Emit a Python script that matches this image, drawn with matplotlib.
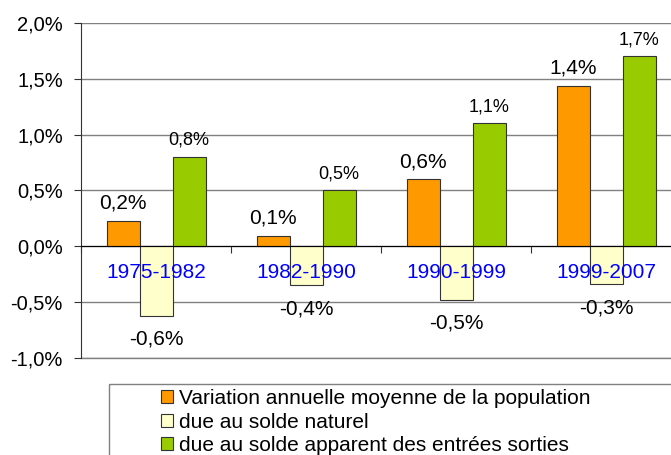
import numpy as np
import matplotlib
matplotlib.use("Agg")
import matplotlib.pyplot as plt
from matplotlib.patches import Rectangle

plt.rcParams['font.family'] = ['Liberation Sans', 'DejaVu Sans']

periods = ['1975-1982', '1982-1990', '1990-1999', '1999-2007']
variation = [0.23, 0.09, 0.60, 1.44]
solde_naturel = [-0.62, -0.35, -0.48, -0.34]
solde_migratoire = [0.80, 0.50, 1.10, 1.70]
shown_var = ['0,2%', '0,1%', '0,6%', '1,4%']
shown_nat = ['-0,6%', '-0,4%', '-0,5%', '-0,3%']
shown_mig = ['0,8%', '0,5%', '1,1%', '1,7%']
legend_names = ['Variation annuelle moyenne de la population',
                'due au solde naturel',
                'due au solde apparent des entrées sorties']

W, H = 671, 455
fig = plt.figure(figsize=(W / 100, H / 100), dpi=100)
ax = fig.add_axes([81 / W, (H - 358) / H, 600 / W, 335 / H])

x = np.arange(len(periods))
bw = 0.22
b1 = ax.bar(x - bw, variation, bw, color='#FF9900', edgecolor='#333333', linewidth=0.8, zorder=3)
b2 = ax.bar(x, solde_naturel, bw, color='#FFFFCC', edgecolor='#333333', linewidth=0.8, zorder=3)
b3 = ax.bar(x + bw, solde_migratoire, bw, color='#99CC00', edgecolor='#333333', linewidth=0.8, zorder=3)

for i in range(len(periods)):
    ax.annotate(shown_var[i], (x[i] - bw, variation[i]), xytext=(0, 6), textcoords='offset points',
                ha='center', va='bottom', fontsize=15)
    ax.annotate(shown_nat[i], (x[i], solde_naturel[i]), xytext=(0, -10), textcoords='offset points',
                ha='center', va='top', fontsize=15)
    ax.annotate(shown_mig[i], (x[i] + bw, solde_migratoire[i]), xytext=(0, 6), textcoords='offset points',
                ha='center', va='bottom', fontsize=13)
    # period names sit on top of the bars, just under the zero line
    ax.annotate(periods[i], (x[i], 0), xytext=(0, -19), textcoords='offset points',
                ha='center', va='center', fontsize=15, color='#0000FF', zorder=6)

ax.set_xlim(-0.5, 3.5)
ax.set_ylim(-1.0, 2.0)
yt = np.arange(-1.0, 2.01, 0.5)
ax.set_yticks(yt)
ax.set_yticklabels([f'{v:.1f}%'.replace('.', ',') for v in yt], fontsize=14.5)
ax.yaxis.grid(True, color='#808080', linewidth=1.0, zorder=0)
ax.axhline(-1.0, color='#808080', linewidth=1.0, clip_on=False, zorder=0)
ax.tick_params(axis='y', direction='out', length=5, color='#333333', pad=8)

ax.spines['bottom'].set_position(('data', 0))
ax.spines['bottom'].set_color('black')
ax.spines['bottom'].set_zorder(4)
ax.spines['top'].set_visible(False)
ax.spines['right'].set_visible(False)
ax.spines['left'].set_color('#333333')

ax.set_xticks([-0.5, 0.5, 1.5, 2.5, 3.5])
ax.set_xticklabels([])
ax.tick_params(axis='x', which='major', direction='out', length=5, color='#333333')

fig.patches.append(Rectangle((109 / W, -0.1), 0.9, (H - 384) / H + 0.1, transform=fig.transFigure,
                             facecolor='none', edgecolor='#808080', linewidth=1.0))
fig.legend([b1, b2, b3], legend_names, loc='upper left', bbox_to_anchor=(161 / W, (H - 389) / H),
           frameon=False, fontsize=15, handlelength=0.58, handleheight=0.58, handletextpad=0.3,
           labelspacing=0.22, borderpad=0.0, borderaxespad=0.0)

fig.savefig('out.png', dpi=100)
